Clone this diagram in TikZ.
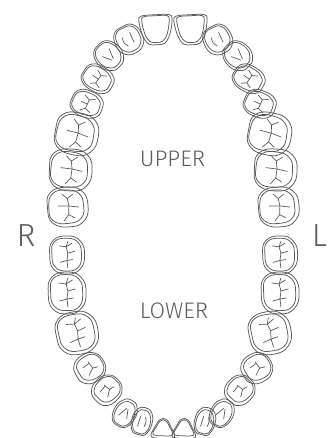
\documentclass[tikz,border=0pt]{standalone}
\usepackage{fontspec}
\setmainfont{Fira Sans Light}
\usepackage{tikz}
\usepackage{xcolor}
\definecolor{toothgray}{HTML}{5A5A5A}
\definecolor{labelgray}{HTML}{5E5E5E}

\begin{document}
\begin{tikzpicture}[x=1pt,y=-1pt,
  tooth/.style={
   draw=toothgray,
   line width=0.75pt,
   line join=round
  },
  fissure/.style={
   draw=toothgray,
   line width=0.7pt,
   line cap=round,
   line join=round
  },
  side/.style={
   text=labelgray,
   font=\fontsize{32}{34}\selectfont
  },
  jaw/.style={
   text=labelgray,
   font=\fontsize{22.5}{25}\selectfont
  },
  pics/incisor/.style={code={
   \draw[tooth] plot[smooth cycle,tension=.6] coordinates{(-8.5,-10) (0,-10.4) (8.5,-10) (10.3,-7) (8.5,3) (5,9.3) (0,10) (-5,9.3) (-8.5,3) (-10.3,-7)};
   \draw[tooth] plot[smooth cycle,tension=.6] coordinates{(-7.2,-9.4) (0,-9.7) (7.2,-9.4) (8.5,-6.5) (6.8,3) (3.8,7.8) (0,8.5) (-3.8,7.8) (-6.8,3) (-8.5,-6.5)};
  }},
  pics/lincisor/.style={code={
   \draw[tooth] plot[smooth cycle,tension=.7] coordinates{(-8,-9.3) (0,-9.8) (8,-9.3) (10.3,-6.5) (6.5,2.5) (3.5,8.3) (0,10) (-3.5,8.3) (-6.5,2.5) (-10.3,-6.5)};
   \draw[tooth] plot[smooth cycle,tension=.7] coordinates{(-7,-6.8) (0,-7.2) (7,-6.8) (8.6,-4.5) (5.3,2.7) (2.8,7.2) (0,8.6) (-2.8,7.2) (-5.3,2.7) (-8.6,-4.5)};
  }},
  pics/lateral/.style={code={
   \draw[tooth] plot[smooth cycle,tension=.8] coordinates{(-7.5,-8.5) (0,-10.4) (7.5,-8.5) (10.3,0) (7.5,7.5) (0,10.2) (-7.5,7.5) (-10.3,0)};
   \draw[tooth] plot[smooth cycle,tension=.8] coordinates{(-6.4,-7.8) (0.3,-9.4) (6.6,-7.4) (8.6,0) (6,6.2) (0.2,8.3) (-5.8,6.3) (-8.6,-0.5)};
   \draw[fissure] (-3.5,-3.5) .. controls (-4.5,0) .. (-2.5,3.5);
   \draw[fissure] (3,-4.5) -- (2.5,3);
  }},
  pics/canine/.style={code={
   \draw[tooth] plot[smooth cycle,tension=.75] coordinates{(-7.5,-8) (0,-10.5) (7.5,-8) (10.3,1) (6.5,8.3) (0,10.3) (-6.5,8.3) (-10.3,1)};
   \draw[tooth] plot[smooth cycle,tension=.75] coordinates{(-6.4,-7.4) (0.3,-9.5) (6.6,-7) (8.6,0.8) (5.3,6.8) (0.2,8.4) (-5.2,7) (-8.6,0.3)};
   \draw[fissure] (-4,-3) -- (-0.6,3.5);
   \draw[fissure] (0.8,3.5) -- (4,-3.5);
  }},
  pics/upremolar/.style={code={
   \draw[tooth] plot[smooth cycle,tension=.8] coordinates{(-7.5,-8.5) (0,-10.4) (8,-8) (10.3,0) (7.5,8) (0,10.2) (-7.5,8) (-10.3,0)};
   \draw[tooth] plot[smooth cycle,tension=.8] coordinates{(-6.3,-7.9) (0.4,-9.4) (6.9,-7.1) (8.6,0) (6,6.5) (0.2,8.4) (-6,6.7) (-8.6,-0.6)};
   \draw[fissure] (-6,-3) -- (-3.5,0) -- (3.5,0.5) -- (6,-3);
   \draw[fissure] (-3.5,0) -- (-5.5,3.5);
   \draw[fissure] (3.5,0.5) -- (5.5,4);
   \draw[fissure] (0,0.3) -- (0.5,-4);
  }},
  pics/lpremolar/.style={code={
   \draw[tooth] plot[smooth cycle,tension=.8] coordinates{(-7.5,-8) (0,-10.4) (7.5,-8) (10.3,0) (7.5,7.5) (0,10.2) (-7.5,7.5) (-10.3,0)};
   \draw[tooth] plot[smooth cycle,tension=.8] coordinates{(-5.8,-6.2) (0.5,-8) (6.6,-6.4) (8.6,0.5) (6.6,6.9) (0.5,9) (-6,7.1) (-8.2,0.8)};
   \draw[fissure] (-4,-3) -- (-1,1.5) -- (4,1);
   \draw[fissure] (-1,1.5) -- (-2,5);
   \draw[fissure] (2.5,-4) -- (3,1);
  }},
  pics/umolar/.style={code={
   \draw[tooth] plot[smooth cycle,tension=.8] coordinates{(-7.8,-8.5) (0.5,-10.5) (8.3,-8.5) (10.5,0) (7.8,7.8) (0,10.3) (-7.8,7.8) (-10.5,0.5)};
   \draw[tooth] plot[smooth cycle,tension=.8] coordinates{(-6.5,-8.2) (0.8,-9.8) (7.7,-7.3) (9,0) (6.5,6.2) (0.5,8) (-6.3,6.4) (-8.6,-0.5)};
   \draw[fissure] (-7,-2.5) -- (-4,0) -- (0.5,0.5) -- (4.5,0) -- (7,-2.5);
   \draw[fissure] (4.5,0) -- (6.5,3);
   \draw[fissure] (0.5,0.5) -- (1,-5);
   \draw[fissure] (0.5,0.5) -- (-0.5,5.5);
   \draw[fissure] (-4,0) -- (-6,3);
  }},
  pics/lmolar/.style={code={
   \draw[tooth] plot[smooth cycle,tension=.8] coordinates{(-7.8,-8) (0,-10.3) (7.8,-8.5) (10.5,0) (7.8,7.8) (0,10.5) (-7.8,7.8) (-10.5,0)};
   \draw[tooth] plot[smooth cycle,tension=.8] coordinates{(-6.5,-7.1) (0.5,-9) (7.2,-7.6) (9.2,0) (6.9,6.6) (0.3,8.6) (-6.7,6.8) (-8.8,-0.2)};
   \draw[fissure] (-7,0.5) -- (-3,0) -- (1,0.5) -- (4.5,-0.5) -- (7.5,0.5);
   \draw[fissure] (-3,0) -- (-4,-4);
   \draw[fissure] (-3,0) -- (-2.5,3.5);
   \draw[fissure] (1,0.5) -- (2,4.5);
   \draw[fissure] (4.5,-0.5) -- (5,-4.5);
   \draw[fissure] (4.5,-0.5) -- (6.5,3);
  }}]
  \useasboundingbox (0,0) rectangle (336,438);

  % both halves of the arches, the right one mirrored
  \foreach \s in {1,-1}{
   \begin{scope}[xshift=173.5pt,xscale=\s]
    \foreach \dx/\py/\rot/\sx/\sy/\kind in {
      -17.5/30/3/1.62/1.47/incisor, -44.5/40/28/1.38/1.42/lateral,
      -64.5/56/45/1.32/1.46/canine,
      -75.5/79/60/1.27/1.56/upremolar, -86.5/104/70/1.3/1.55/upremolar,
      -96.5/134/80/2.02/2.08/umolar, -102.5/170/88/2/2.05/umolar, -105.5/207/95/1.9/1.95/umolar,
      -106.5/255/90/1.82/1.68/lmolar, -106.5/293/90/2/1.82/lmolar,
      -96.5/333/100/2.05/2.02/lmolar,
      -83.5/368/120/1.45/1.5/lpremolar, -66.5/390/135/1.37/1.47/lpremolar,
      -48.5/413/150/1.1/1.4/canine, -31.5/421/165/1/1.35/lateral,
      -10.5/428.5/178/1.15/1.02/lincisor}
     \pic[rotate=\rot,xscale=\sx,yscale=\sy] at (\dx,\py) {\kind};
   \end{scope}
  }

  \node[jaw] (upper) at (172.5,159) {UPPER};
  \node[jaw] (lower) at (174,311) {LOWER};
  \node[side] (right) at (26,236) {R};
  \node[side] (left) at (319.5,236) {L};
\end{tikzpicture}
\end{document}
